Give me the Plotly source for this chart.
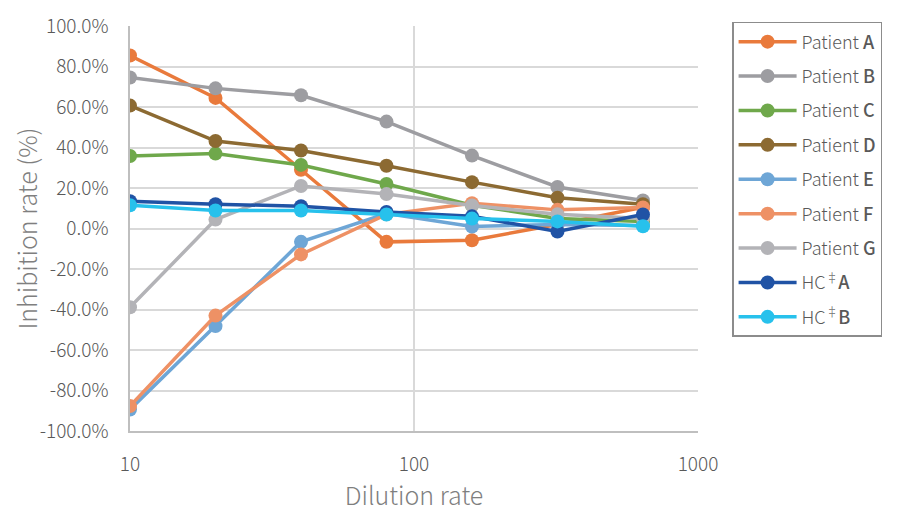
import plotly.graph_objects as go

dilution = [10, 20, 40, 80, 160, 320, 640]
x_ticks = [10, 100, 1000]
x_tick_labels = ["10", "100", "1000"]
y_ticks = [-1.0, -0.8, -0.6, -0.4, -0.2, 0.0, 0.2, 0.4, 0.6, 0.8, 1.0]
y_tick_labels = ["-100.0%", "-80.0%", "-60.0%", "-40.0%", "-20.0%", "0.0%",
                 "20.0%", "40.0%", "60.0%", "80.0%", "100.0%"]

M = "<span style='font-weight:500'>{}</span>"
series_names = ["Patient " + M.format("A"), "Patient " + M.format("B"), "Patient " + M.format("C"),
                "Patient " + M.format("D"), "Patient " + M.format("E"), "Patient " + M.format("F"),
                "Patient " + M.format("G"), "HC<sup>‡</sup>" + M.format("A"), "HC<sup>‡</sup>" + M.format("B")]

patient_a = [0.854, 0.645, 0.29, -0.066, -0.058, 0.02, 0.105]
patient_b = [0.746, 0.692, 0.658, 0.528, 0.360, 0.205, 0.138]
patient_c = [0.358, 0.370, 0.314, 0.220, 0.115, 0.050, 0.035]
patient_d = [0.607, 0.432, 0.385, 0.310, 0.229, 0.152, 0.120]
patient_e = [-0.894, -0.482, -0.066, 0.074, 0.010, 0.020, 0.015]
patient_f = [-0.877, -0.430, -0.128, 0.070, 0.125, 0.092, 0.104]
patient_g = [-0.389, 0.044, 0.210, 0.170, 0.114, 0.070, 0.050]
hc_a = [0.135, 0.120, 0.110, 0.082, 0.060, -0.015, 0.069]
hc_b = [0.115, 0.089, 0.089, 0.069, 0.049, 0.035, 0.011]

all_values = [patient_a, patient_b, patient_c, patient_d, patient_e, patient_f, patient_g, hc_a, hc_b]
colors = ["#E97A3C", "#9D9DA1", "#6FA84B", "#8C6A32", "#6EA6D6", "#EE9165", "#B3B3B7", "#2053A5", "#27C1EC"]

fig = go.Figure()
for i, (name, vals, col) in enumerate(zip(series_names, all_values, colors)):
    fig.add_trace(go.Scatter(
        x=dilution, y=vals, name=name, mode="lines+markers",
        line=dict(color=col, width=3.5),
        marker=dict(color=col, size=14),
        legendgroup=f"g{i}",
    ))

font_family = "Noto Sans CJK JP, Noto Sans, sans-serif"
fig.update_layout(
    width=906, height=510,
    margin=dict(l=122, r=216, t=18, b=87),
    paper_bgcolor="white", plot_bgcolor="white",
    font=dict(family=font_family, color="#595959", weight=300),
    legend=dict(
        x=1.06, y=1.01, xanchor="left", yanchor="top",
        bordercolor="#8C8C8C", borderwidth=1.5,
        font=dict(size=18, color="#595959", weight=300),
        tracegroupgap=8, itemwidth=58, maxheight=420,
    ),
    showlegend=True,
)
fig.update_xaxes(
    type="log", range=[1, 3],
    tickvals=x_ticks, ticktext=x_tick_labels,
    showgrid=True, gridcolor="#D9D9D9", gridwidth=1.5,
    showline=True, linecolor="#BFBFBF", linewidth=1.5,
    tickfont=dict(size=19, color="#595959"),
    ticklabelstandoff=15, automargin=False,
    title=dict(text="Dilution rate", font=dict(size=25, color="#7F7F7F"), standoff=12),
    zeroline=False,
)
fig.update_yaxes(
    range=[-1, 1], tickvals=y_ticks, ticktext=y_tick_labels,
    showgrid=True, gridcolor="#D9D9D9", gridwidth=1.5,
    showline=True, linecolor="#BFBFBF", linewidth=1.5,
    tickfont=dict(size=19, color="#595959"),
    ticklabelstandoff=16, automargin=False,
    title=dict(text="Inhibition rate (%)", font=dict(size=25, color="#7F7F7F")),
    zeroline=False,
)

fig.write_html("out.html")
